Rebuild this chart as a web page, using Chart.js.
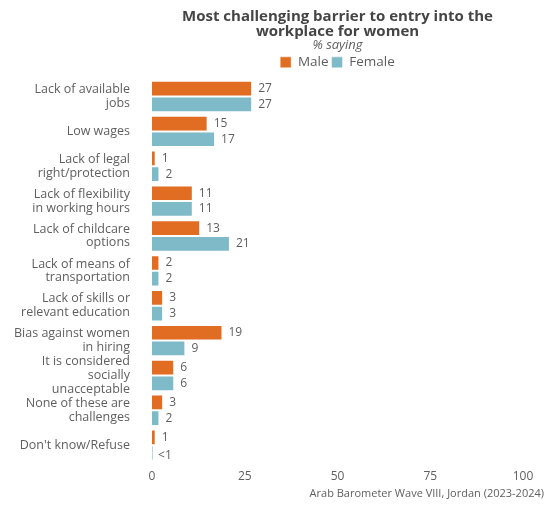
<!DOCTYPE html>
<html>
<head>
<meta charset="utf-8">
<script src="https://cdn.jsdelivr.net/npm/chart.js@4.4.1/dist/chart.umd.min.js"></script>
<style>
  html, body { margin: 0; padding: 0; background: #fff; }
  #wrap { width: 547px; height: 506px; position: relative; }
</style>
</head>
<body>
<div id="wrap"><canvas id="barrierChart"></canvas></div>
<script>
const categories = [
    ['Lack of available', 'jobs'],
    'Low wages',
    ['Lack of legal', 'right/protection'],
    ['Lack of flexibility', 'in working hours'],
    ['Lack of childcare', 'options'],
    ['Lack of means of', 'transportation'],
    ['Lack of skills or', 'relevant education'],
    ['Bias against women', 'in hiring'],
    ['It is considered', 'socially', 'unacceptable'],
    ['None of these are', 'challenges'],
    "Don't know/Refuse"
];
const maleValues = [27, 15, 1, 11, 13, 2, 3, 19, 6, 3, 1];
const femaleValues = [27, 17, 2, 11, 21, 2, 3, 9, 6, 2, 0.3];
const xTicks = [0, 25, 50, 75, 100];
const sourceNote = 'Arab Barometer Wave VIII, Jordan (2023-2024)';

const FONT = "'Open Sans', 'DejaVu Sans', sans-serif";
const ORANGE = '#E06D22';
const TEAL = '#7FBAC8';
const GREY = '#5f5f5f';

function fmt(v) {
    return v < 1 ? '<1' : String(Math.round(v));
}

// value labels at the end of each bar
const barLabels = {
    id: 'barLabels',
    afterDatasetsDraw(chart) {
        const ctx = chart.ctx;
        ctx.save();
        ctx.font = '12px ' + FONT;
        ctx.fillStyle = GREY;
        ctx.textBaseline = 'middle';
        ctx.textAlign = 'left';
        chart.data.datasets.forEach(function (ds, i) {
            chart.getDatasetMeta(i).data.forEach(function (bar, j) {
                const v = ds.data[j];
                const dx = v < 1 ? 5 : 6;
                ctx.fillText(fmt(v), bar.x + dx, bar.y + (v < 1 ? 3 : 0));
            });
        });
        ctx.restore();
    }
};

const sourceCaption = {
    id: 'sourceCaption',
    afterDraw(chart) {
        const ctx = chart.ctx;
        ctx.save();
        ctx.font = '11px ' + FONT;
        ctx.fillStyle = GREY;
        ctx.textAlign = 'right';
        ctx.textBaseline = 'middle';
        ctx.fillText(sourceNote, chart.width - 3, 494);
        ctx.restore();
    }
};

new Chart(document.getElementById('barrierChart'), {
    type: 'bar',
    data: {
        labels: categories,
        datasets: [
            {
                label: 'Male',
                data: maleValues,
                backgroundColor: ORANGE,
                borderColor: 'rgba(255,255,255,0.5)',
                borderWidth: 1
            },
            {
                label: 'Female',
                data: femaleValues,
                backgroundColor: TEAL,
                borderColor: 'rgba(255,255,255,0.5)',
                borderWidth: 1
            }
        ]
    },
    options: {
        indexAxis: 'y',
        responsive: true,
        maintainAspectRatio: false,
        animation: false,
        layout: { padding: { left: 0, right: 24, top: 9, bottom: 15 } },
        datasets: { bar: { categoryPercentage: 0.9, barPercentage: 1.0 } },
        plugins: {
            title: {
                display: true,
                fullSize: false,
                text: ['Most challenging barrier to entry into the', 'workplace for women'],
                color: '#454545',
                font: { family: FONT, size: 15, weight: 'bold', lineHeight: 1.0 },
                padding: { top: 0, bottom: -2 }
            },
            subtitle: {
                display: true,
                fullSize: false,
                text: '% saying',
                color: GREY,
                font: { family: FONT, size: 13, style: 'italic' },
                padding: { top: 0, bottom: 0 }
            },
            legend: {
                fullSize: false,
                labels: {
                    color: GREY,
                    font: { family: FONT, size: 13.5 },
                    boxWidth: 11,
                    boxHeight: 11,
                    padding: 3
                }
            },
            tooltip: { enabled: false }
        },
        scales: {
            x: {
                min: 0,
                max: 100,
                afterBuildTicks: function (scale) {
                    scale.ticks = xTicks.map(function (v) { return { value: v }; });
                },
                grid: { display: false, drawTicks: false },
                border: { display: false },
                ticks: { color: GREY, font: { family: FONT, size: 12 }, padding: 7 }
            },
            y: {
                grid: { display: false, drawTicks: false },
                border: { display: false },
                ticks: {
                    color: GREY,
                    autoSkip: false,
                    font: { family: FONT, size: 12.5, lineHeight: 1.1 },
                    padding: 22
                },
                afterFit: function (scale) { scale.width = 152; }
            }
        }
    },
    plugins: [barLabels, sourceCaption]
});
</script>
</body>
</html>
